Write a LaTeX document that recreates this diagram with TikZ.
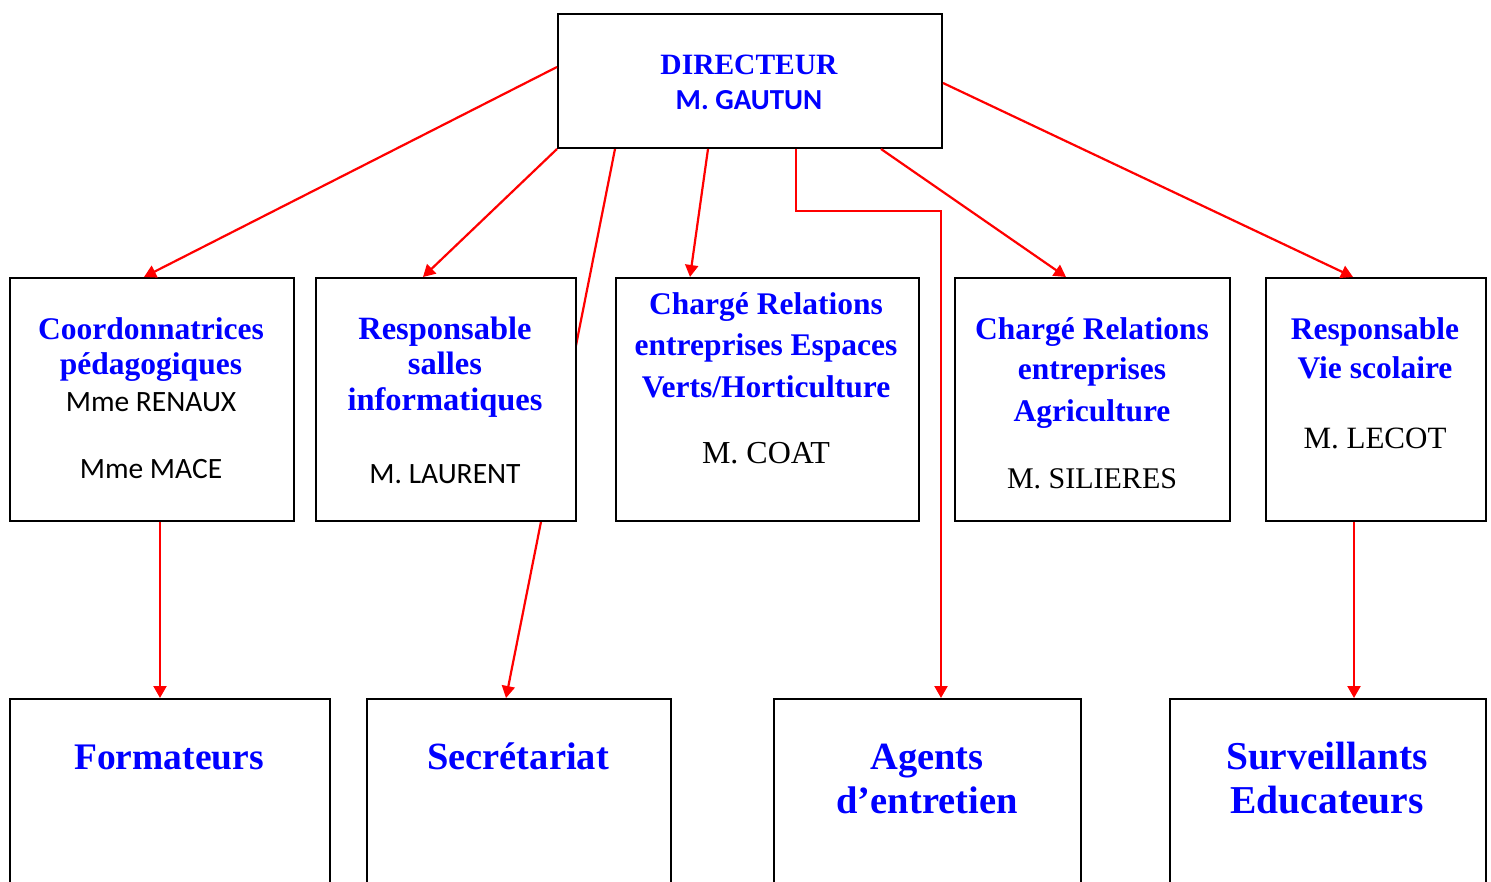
\documentclass[tikz,border=0pt]{standalone}
\usepackage{fontspec}
\setmainfont{Liberation Serif}
\newfontfamily\calib{Carlito}
\usetikzlibrary{arrows.meta,backgrounds}
\definecolor{tblue}{RGB}{0,0,255}
\definecolor{tred}{RGB}{255,0,0}
\begin{document}
\begin{tikzpicture}[x=1pt,y=-1pt,
  box/.style={draw=black,line width=2pt,fill=white,anchor=north west,inner sep=0pt},
  ttl/.style={anchor=base,inner sep=0pt,text=tblue,font=\fontsize{31.5}{36}\selectfont\bfseries},
  big/.style={anchor=base,inner sep=0pt,text=tblue,font=\fontsize{38.5}{44}\selectfont\bfseries},
  nm/.style={anchor=base,inner sep=0pt,text=black,font=\fontsize{31}{34}\selectfont},
  sn/.style={anchor=base,inner sep=0pt,text=black,font=\calib\fontsize{29.5}{32}\selectfont},
  con/.style={draw=tred,line width=2.2pt},
  arr/.style={con,-{Triangle[width=13pt,length=12pt]}}]
\useasboundingbox (0,0) rectangle (1491,882);
% boxes
\node[box,minimum width=384pt,minimum height=134pt] (dir) at (557,13) {};
\node[box,minimum width=284pt,minimum height=243pt] (A) at (9,277) {};
\node[box,minimum width=260pt,minimum height=243pt] (B) at (315,277) {};
\node[box,minimum width=303pt,minimum height=243pt] (C) at (615,277) {};
\node[box,minimum width=275pt,minimum height=243pt] (D) at (954,277) {};
\node[box,minimum width=220pt,minimum height=243pt] (E) at (1265,277) {};
\node[box,minimum width=320pt,minimum height=220pt] (F) at (9,698) {};
\node[box,minimum width=304pt,minimum height=220pt] (G) at (366,698) {};
\node[box,minimum width=307pt,minimum height=220pt] (H) at (773,698) {};
\node[box,minimum width=316pt,minimum height=220pt] (I) at (1169,698) {};
% texts
\node[ttl,font=\fontsize{29.5}{34}\selectfont\bfseries] (t0a) at (749,75) {DIRECTEUR};
\node[sn,text=tblue,font=\calib\fontsize{29}{32}\selectfont\bfseries] (t0b) at (749,110) {M. GAUTUN};
\node[ttl] (tAa) at (151,340) {Coordonnatrices};
\node[ttl] (tAb) at (151,374) {pédagogiques};
\node[sn] (tAc) at (151,411) {Mme RENAUX};
\node[sn] (tAd) at (151,478) {Mme MACE};
\node[ttl,font=\fontsize{32.5}{36}\selectfont\bfseries] (tBa) at (445,340) {Responsable};
\node[ttl,font=\fontsize{32.5}{36}\selectfont\bfseries] (tBb) at (445,375) {salles};
\node[ttl,font=\fontsize{32.5}{36}\selectfont\bfseries] (tBc) at (445,410) {informatiques};
\node[sn] (tBd) at (445,483) {M. LAURENT};
\node[ttl] (tCa) at (766,315) {Chargé Relations};
\node[ttl] (tCb) at (766,356) {entreprises Espaces};
\node[ttl] (tCc) at (766,397) {Verts/Horticulture};
\node[nm,font=\fontsize{32}{34}\selectfont] (tCd) at (766,463) {M. COAT};
\node[ttl] (tDa) at (1092,340) {Chargé Relations};
\node[ttl] (tDb) at (1092,380) {entreprises};
\node[ttl] (tDc) at (1092,421) {Agriculture};
\node[nm,font=\fontsize{30}{34}\selectfont] (tDd) at (1092,488) {M. SILIERES};
\node[ttl] (tEa) at (1375,340) {Responsable};
\node[ttl] (tEb) at (1375,379) {Vie scolaire};
\node[nm] (tEc) at (1375,448) {M. LECOT};
\node[big,font=\fontsize{37.5}{44}\selectfont\bfseries] (tF) at (169,769) {Formateurs};
\node[big] (tG) at (518,769) {Secrétariat};
\node[big] (tHa) at (927,769) {Agents};
\node[big] (tHb) at (927,813) {d’entretien};
\node[big,font=\fontsize{39.5}{44}\selectfont\bfseries] (tIa) at (1327,769) {Surveillants};
\node[big,font=\fontsize{39.5}{44}\selectfont\bfseries] (tIb) at (1327,813) {Educateurs};
% connectors
\begin{scope}[on background layer]
\draw[arr] ([xshift=58pt]dir.south west) -- ([xshift=-13pt]G.north);
\end{scope}
\draw[arr] ([yshift=14pt]dir.west) -- ([xshift=-8pt]A.north);
\draw[arr] (dir.south west) -- ([xshift=-23pt]B.north);
\draw[arr] ([xshift=-42pt]dir.south) -- ([xshift=-77.5pt]C.north);
\draw[arr] ([xshift=46pt]dir.south) |- ([xshift=13.5pt,yshift=487pt]H.north) -- ([xshift=13.5pt]H.north);
\draw[arr] ([xshift=131pt]dir.south) -- ([xshift=-26.5pt]D.north);
\draw[arr] ([yshift=-2pt]dir.east) -- ([xshift=-23pt]E.north);
\draw[arr] ([xshift=8pt]A.south) -- ([xshift=-10pt]F.north);
\draw[arr] ([xshift=-22pt]E.south) -- ([xshift=26pt]I.north);
\end{tikzpicture}
\end{document}
